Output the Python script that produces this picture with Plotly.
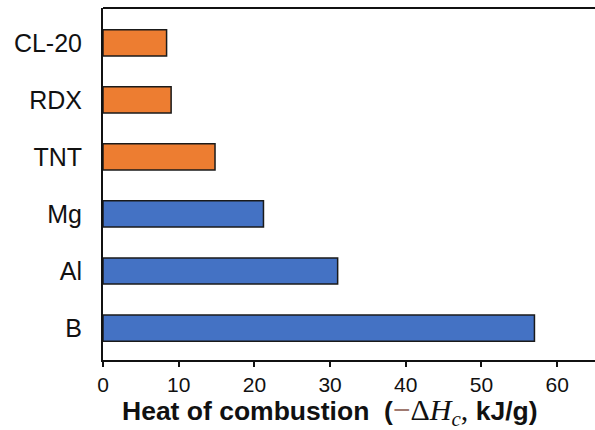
import plotly.graph_objects as go

categories = ["B", "Al", "Mg", "TNT", "RDX", "CL-20"]
values = [57.0, 31.0, 21.2, 14.8, 9.0, 8.4]
colors = ["#4472C4", "#4472C4", "#4472C4", "#ED7D31", "#ED7D31", "#ED7D31"]
x_ticks = [0, 10, 20, 30, 40, 50, 60]

fig = go.Figure()
fig.add_trace(go.Bar(
    y=categories, x=values, orientation="h",
    marker=dict(color=colors, line=dict(color="#1a1a1a", width=1.5)),
    width=0.46,
))

title_text = ("<b>Heat of combustion&nbsp;&nbsp;(</b>"
              "<span style=\"color:#a07a70;font-size:30px\">−</span>"
              "<span style=\"font-family:'Liberation Serif';font-size:30px\">Δ<i>H</i><sub><i>c</i></sub>,&nbsp;</span>"
              "<b>kJ/g)</b>")

fig.update_layout(
    width=595, height=430,
    margin=dict(l=103, r=0, t=8, b=70),
    plot_bgcolor="white", paper_bgcolor="white",
    showlegend=False,
    font=dict(family="Liberation Sans, Arial, sans-serif", color="#111"),
    xaxis=dict(
        range=[0, 65], tickvals=x_ticks, ticks="outside", ticklen=5, tickwidth=1.5,
        tickcolor="#111", showline=True, linecolor="#111", linewidth=2,
        showgrid=False, zeroline=False, tickfont=dict(size=21),
    ),
    yaxis=dict(
        categoryorder="array", categoryarray=categories,
        range=[-0.56, 5.61], showline=True, linecolor="#111", linewidth=2,
        showgrid=False, zeroline=False, ticks="", tickfont=dict(size=25),
        ticklabelstandoff=14,
    ),
    annotations=[dict(text=title_text, xref="paper", yref="paper",
                      x=0.4604, y=-0.148, xanchor="center", yanchor="middle",
                      showarrow=False, font=dict(size=26.5))],
    shapes=[dict(type="line", xref="paper", yref="paper", x0=0, x1=1, y0=1, y1=1,
                 line=dict(color="#111", width=2))],
)

fig.write_html("out.html")
